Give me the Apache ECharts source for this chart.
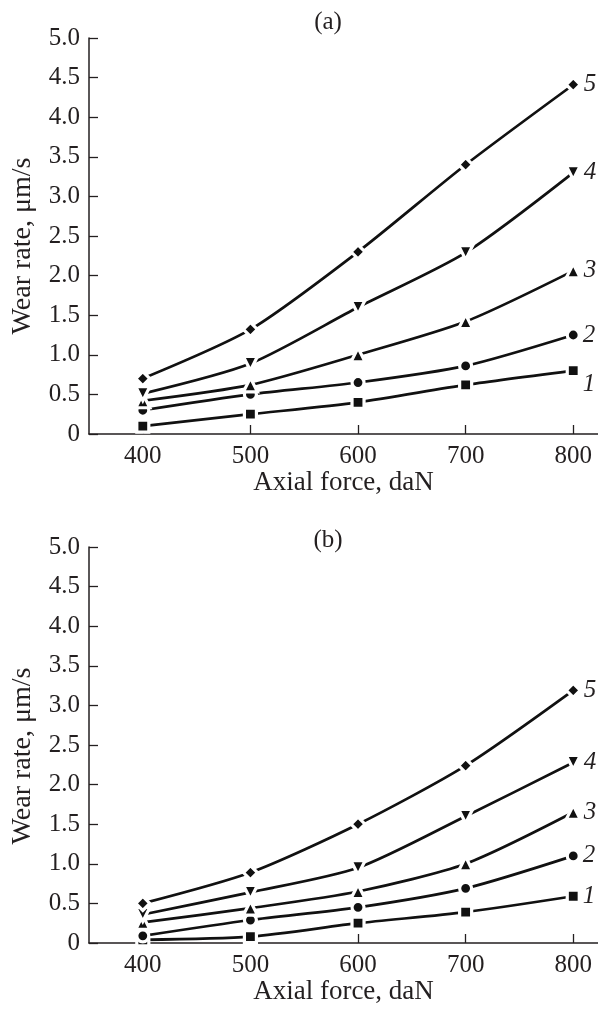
<!DOCTYPE html>
<html>
<head>
<meta charset="utf-8">
<script src="https://cdn.jsdelivr.net/npm/echarts@6/dist/echarts.min.js"></script>
<style>
html,body{margin:0;padding:0;background:#fff;}
#c{width:598px;height:1009px;}
</style>
</head>
<body>
<div id="c"></div>
<script>
// ---- data ----
const forces = [400, 500, 600, 700, 800];
const seriesNames = ['1', '2', '3', '4', '5'];
// panel (a)
const a1 = [0.10, 0.25, 0.40, 0.62, 0.80];
const a2 = [0.30, 0.50, 0.65, 0.86, 1.25];
const a3 = [0.42, 0.62, 1.00, 1.42, 2.06];
const a4 = [0.51, 0.89, 1.60, 2.29, 3.30];
const a5 = [0.70, 1.32, 2.30, 3.40, 4.41];
// panel (b)
const b1 = [0.04, 0.08, 0.25, 0.39, 0.59];
const b2 = [0.09, 0.29, 0.45, 0.69, 1.10];
const b3 = [0.26, 0.44, 0.65, 1.00, 1.65];
const b4 = [0.36, 0.64, 0.95, 1.60, 2.28];
const b5 = [0.50, 0.89, 1.50, 2.24, 3.19];
const xTickValues = [400, 500, 600, 700, 800];
const panelTitles = ['(a)', '(b)'];
const xTitle = 'Axial force, daN';
const yTitle = 'Wear rate, \u03bcm/s';

const FONT = '"Liberation Serif","Times New Roman",serif';
const INK = '#231f20';
const TICK_FS = 25;
const XTITLE_FS = 27;
const YTITLE_FS = 28;
const symbols = [
  {symbol: 'rect', size: 12, rotate: 0},
  {symbol: 'circle', size: 12, rotate: 0},
  {symbol: 'triangle', size: 14, rotate: 0},
  {symbol: 'triangle', size: 14, rotate: 180},
  {symbol: 'diamond', size: 14, rotate: 0}
];

const grids = [
  {left: 89, right: 0, top: 38, height: 396},
  {left: 89, right: 0, top: 547, height: 396}
];

function xAxis(i) {
  return {
    gridIndex: i, type: 'value', min: 350, max: 823,
    axisLine: {lineStyle: {color: INK, width: 1.5}},
    axisTick: {show: true, inside: true, length: 9, customValues: xTickValues, lineStyle: {color: INK, width: 1.3}},
    axisLabel: {customValues: xTickValues, color: INK, fontFamily: FONT, fontSize: TICK_FS, margin: 10},
    splitLine: {show: false},
    name: xTitle, nameLocation: 'middle', nameGap: 33,
    nameTextStyle: {color: INK, fontFamily: FONT, fontSize: XTITLE_FS}
  };
}
function yAxis(i) {
  return {
    gridIndex: i, type: 'value', min: 0, max: 5, interval: 0.5,
    axisLine: {show: true, lineStyle: {color: INK, width: 1.5}},
    axisTick: {show: true, inside: true, length: 9, lineStyle: {color: INK, width: 1.3}},
    axisLabel: {color: INK, fontFamily: FONT, fontSize: TICK_FS, margin: 9,
      formatter: v => v === 0 ? '0' : v.toFixed(1)},
    splitLine: {show: false}
  };
}

function mkSeries(data, idx, panel, labelOffset) {
  const s = symbols[idx];
  return {
    type: 'line', xAxisIndex: panel, yAxisIndex: panel,
    data: data.map((v, k) => [forces[k], v]),
    smooth: 0.25,
    symbol: s.symbol, symbolSize: s.size, symbolRotate: s.rotate,
    showSymbol: true,
    lineStyle: {color: '#111', width: 2.7},
    itemStyle: {color: '#111', borderColor: '#fff', borderWidth: 3.2},
    label: {
      show: true, position: 'right', distance: 2,
      offset: labelOffset || [0, 0],
      formatter: p => p.dataIndex === data.length - 1 ? seriesNames[idx] : '',
      color: INK, fontFamily: FONT, fontStyle: 'italic', fontSize: TICK_FS
    },
    emphasis: {disabled: true},
    animation: false, z: 2 + idx
  };
}

const series = [
  mkSeries(a1, 0, 0, [0, 14]), mkSeries(a2, 1, 0), mkSeries(a3, 2, 0), mkSeries(a4, 3, 0), mkSeries(a5, 4, 0),
  mkSeries(b1, 0, 1), mkSeries(b2, 1, 1), mkSeries(b3, 2, 1), mkSeries(b4, 3, 1), mkSeries(b5, 4, 1)
];

const chart = echarts.init(document.getElementById('c'), null, {renderer: 'canvas'});
chart.setOption({
  backgroundColor: '#fff',
  animation: false,
  grid: grids,
  xAxis: [xAxis(0), xAxis(1)],
  yAxis: [yAxis(0), yAxis(1)],
  series: series,
  graphic: [
    {type: 'text', x: 328, y: 22, style: {text: panelTitles[0], fill: INK, font: TICK_FS + 'px ' + FONT, textAlign: 'center', textVerticalAlign: 'middle'}},
    {type: 'text', x: 328, y: 540, style: {text: panelTitles[1], fill: INK, font: TICK_FS + 'px ' + FONT, textAlign: 'center', textVerticalAlign: 'middle'}},
    {type: 'text', x: 23, y: 246, rotation: Math.PI / 2, style: {text: yTitle, fill: INK, font: YTITLE_FS + 'px ' + FONT, textAlign: 'center', textVerticalAlign: 'middle'}},
    {type: 'text', x: 23, y: 756, rotation: Math.PI / 2, style: {text: yTitle, fill: INK, font: YTITLE_FS + 'px ' + FONT, textAlign: 'center', textVerticalAlign: 'middle'}}
  ]
});
</script>
</body>
</html>
